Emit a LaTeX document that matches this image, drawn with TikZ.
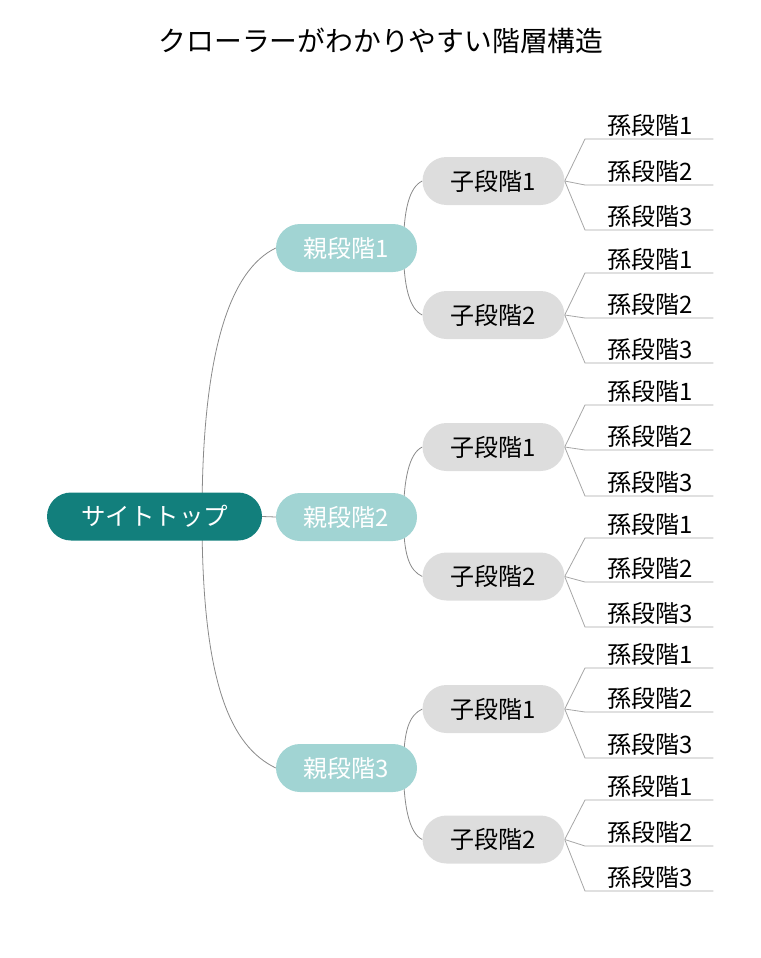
\documentclass[tikz,border=0pt]{standalone}
\usepackage{fontspec}
\setmainfont{Noto Sans CJK JP}
\usetikzlibrary{backgrounds}
\definecolor{rootc}{HTML}{127F7C}
\definecolor{parc}{HTML}{A1D4D3}
\definecolor{kidc}{HTML}{DDDDDD}
\definecolor{linec}{HTML}{8A8A8A}
\definecolor{ulc}{HTML}{A6A6A6}
\begin{document}
\begin{tikzpicture}[x=1pt,y=-1pt,
  pill/.style={rounded corners=24pt, minimum height=48pt, inner sep=0pt, font=\fontsize{24}{28}\selectfont},
  rootbox/.style={pill, fill=rootc, text=white, minimum width=215pt, font=\fontsize{24.5}{28}\selectfont},
  parbox/.style={pill, fill=parc, text=white, minimum width=141pt},
  kidbox/.style={pill, fill=kidc, text=black, minimum width=142pt},
  gcbox/.style={anchor=south west, text width=128pt, inner xsep=0pt, inner ysep=2.5pt, align=left,
     font=\fontsize{24}{28}\selectfont, execute at begin node=\hspace*{22pt}},
  conn/.style={draw=linec, line width=0.8pt},
  ulconn/.style={draw=ulc, line width=0.8pt},
  titlebox/.style={font=\fontsize{27.8}{32}\selectfont, inner sep=0pt}]
\useasboundingbox (0,0) rectangle (760,958);
\node[titlebox] (title) at (381,41) {クローラーがわかりやすい階層構造};
\node[rootbox] (r) at (154.5,516.5) {サイトトップ};
\node[parbox] (p1) at (346.5,248) {親段階1};
\node[parbox] (p2) at (346.5,517) {親段階2};
\node[parbox] (p3) at (346.5,768) {親段階3};
\node[kidbox] (k1) at (493.5,181) {子段階1};
\node[kidbox] (k2) at (493.5,315) {子段階2};
\node[kidbox] (k3) at (493.5,447) {子段階1};
\node[kidbox] (k4) at (493.5,576.5) {子段階2};
\node[kidbox] (k5) at (493.5,709) {子段階1};
\node[kidbox] (k6) at (493.5,839.5) {子段階2};
% grandchildren
\node[gcbox] (g11) at (585,139) {孫段階1};
\node[gcbox] (g12) at (585,185) {孫段階2};
\node[gcbox] (g13) at (585,230) {孫段階3};
\node[gcbox] (g21) at (585,273) {孫段階1};
\node[gcbox] (g22) at (585,318) {孫段階2};
\node[gcbox] (g23) at (585,363) {孫段階3};
\node[gcbox] (g31) at (585,405) {孫段階1};
\node[gcbox] (g32) at (585,450) {孫段階2};
\node[gcbox] (g33) at (585,496) {孫段階3};
\node[gcbox] (g41) at (585,538) {孫段階1};
\node[gcbox] (g42) at (585,582) {孫段階2};
\node[gcbox] (g43) at (585,627) {孫段階3};
\node[gcbox] (g51) at (585,668) {孫段階1};
\node[gcbox] (g52) at (585,712) {孫段階2};
\node[gcbox] (g53) at (585,758) {孫段階3};
\node[gcbox] (g61) at (585,800) {孫段階1};
\node[gcbox] (g62) at (585,846) {孫段階2};
\node[gcbox] (g63) at (585,891) {孫段階3};
\begin{pgfonlayer}{background}
  \draw[conn] ([xshift=47.5pt]r.center) .. controls +(0,-166) and +(-45.5,22) .. (p1.west);
  \draw[conn] (r.east) -- (p2.west);
  \draw[conn] ([xshift=47.5pt]r.center) .. controls +(0,166) and +(-45.5,-22) .. (p3.west);
  \foreach \p/\a/\b in {p1/k1/k2, p2/k3/k4, p3/k5/k6}{
    \draw[conn] ([xshift=57pt]\p.center) .. controls +(0,-38) and +(-13,6) .. (\a.west);
    \draw[conn] ([xshift=57pt]\p.center) .. controls +(0,38) and +(-13,-6) .. (\b.west);
  }
  \foreach \k/\i in {k1/1, k2/2, k3/3, k4/4, k5/5, k6/6}{
    \foreach \j in {1,2,3}{
      \draw[ulconn] (\k.east) -- (g\i\j.south west) -- (g\i\j.south east);
    }
  }
\end{pgfonlayer}
\end{tikzpicture}
\end{document}
